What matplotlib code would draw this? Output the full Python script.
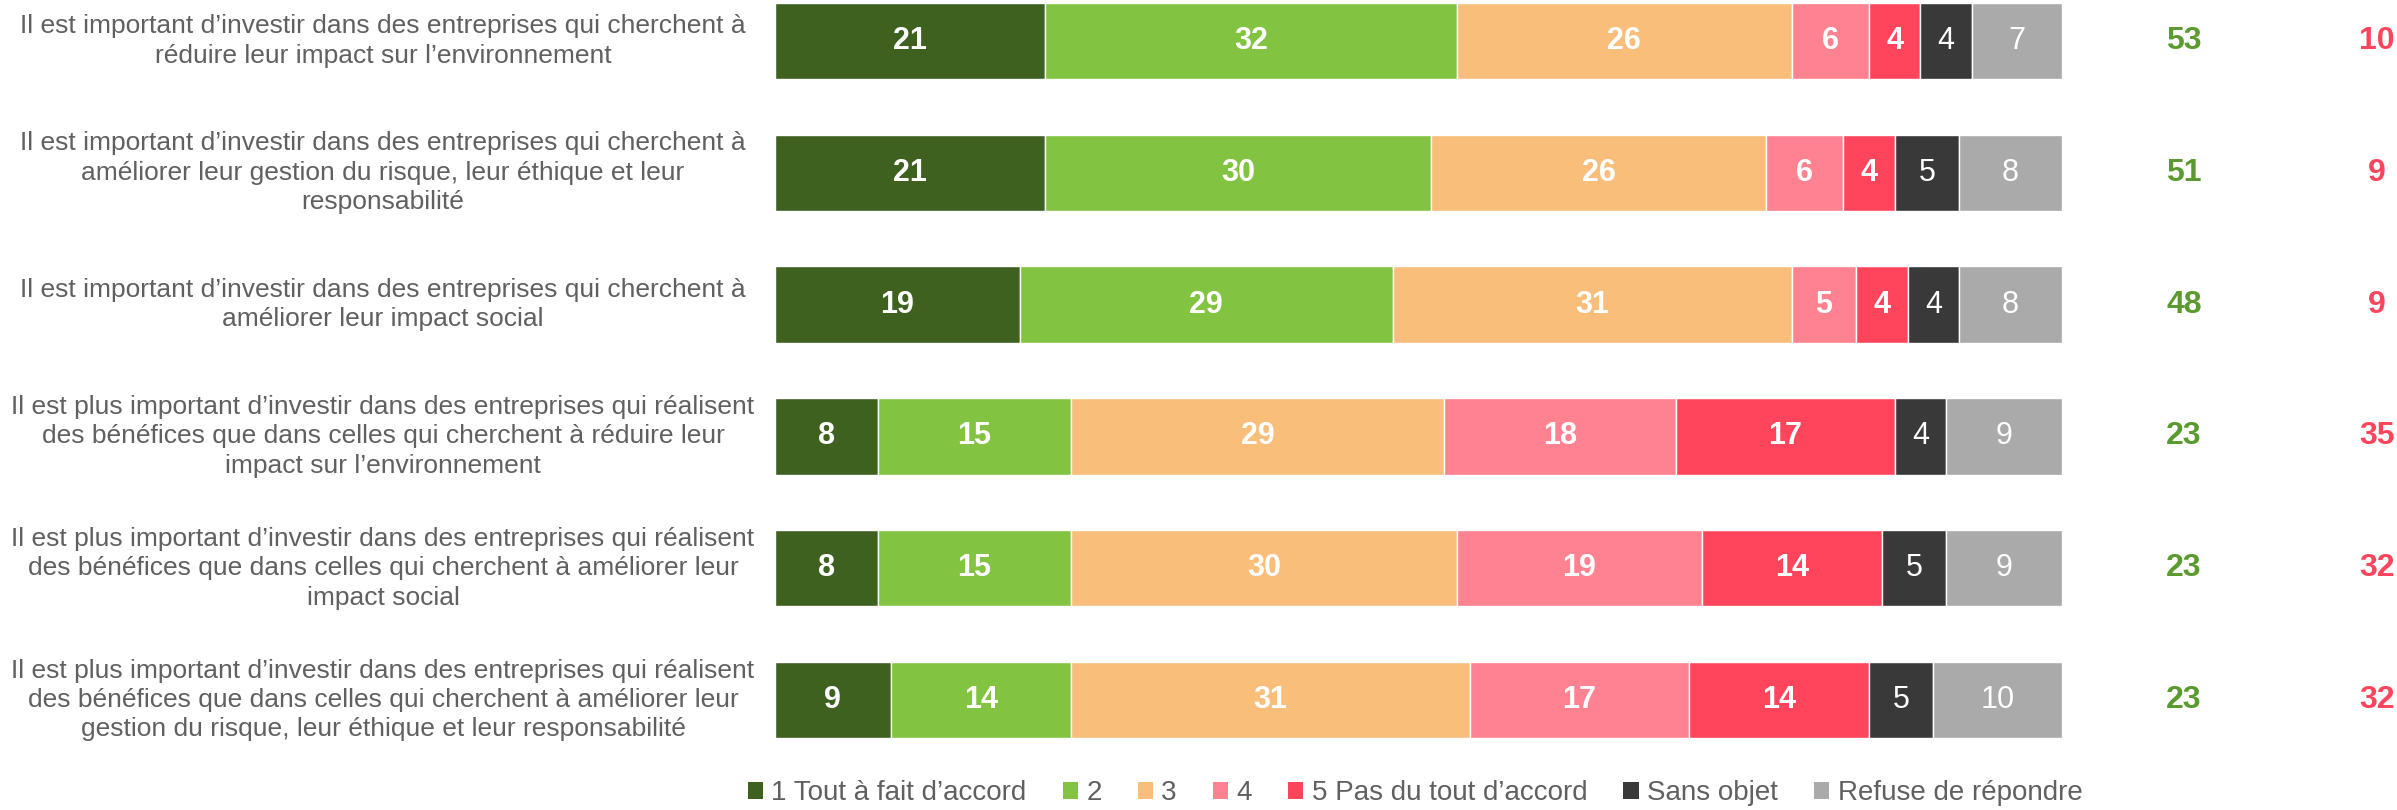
import matplotlib.pyplot as plt
from matplotlib.patches import Patch
import numpy as np

plt.rcParams['font.family'] = ['Liberation Sans', 'DejaVu Sans']

statements = [
    "Il est important d\u2019investir dans des entreprises qui cherchent \u00e0\nr\u00e9duire leur impact sur l\u2019environnement",
    "Il est important d\u2019investir dans des entreprises qui cherchent \u00e0\nam\u00e9liorer leur gestion du risque, leur \u00e9thique et leur\nresponsabilit\u00e9",
    "Il est important d\u2019investir dans des entreprises qui cherchent \u00e0\nam\u00e9liorer leur impact social",
    "Il est plus important d\u2019investir dans des entreprises qui r\u00e9alisent\ndes b\u00e9n\u00e9fices que dans celles qui cherchent \u00e0 r\u00e9duire leur\nimpact sur l\u2019environnement",
    "Il est plus important d\u2019investir dans des entreprises qui r\u00e9alisent\ndes b\u00e9n\u00e9fices que dans celles qui cherchent \u00e0 am\u00e9liorer leur\nimpact social",
    "Il est plus important d\u2019investir dans des entreprises qui r\u00e9alisent\ndes b\u00e9n\u00e9fices que dans celles qui cherchent \u00e0 am\u00e9liorer leur\ngestion du risque, leur \u00e9thique et leur responsabilit\u00e9",
]
categories = ["1 Tout \u00e0 fait d\u2019accord", "2", "3", "4", "5 Pas du tout d\u2019accord",
              "Sans objet", "Refuse de r\u00e9pondre"]
colors = ["#3F6120", "#82C341", "#F9BE7A", "#FF8290", "#FF455C", "#393939", "#AAAAAA"]

accord_1 = [21, 21, 19, 8, 8, 9]
accord_2 = [32, 30, 29, 15, 15, 14]
neutre_3 = [26, 26, 31, 29, 30, 31]
desaccord_4 = [6, 6, 5, 18, 19, 17]
desaccord_5 = [4, 4, 4, 17, 14, 14]
sans_objet = [4, 5, 4, 4, 5, 5]
refuse = [7, 8, 8, 9, 9, 10]
total_accord = [53, 51, 48, 23, 23, 23]
total_desaccord = [10, 9, 9, 35, 32, 32]

series = [accord_1, accord_2, neutre_3, desaccord_4, desaccord_5, sans_objet, refuse]

W, H = 2397, 810
fig = plt.figure(figsize=(W / 100, H / 100), dpi=100)
ax = fig.add_axes([775 / W, 1 - 760 / H, (2062 - 775) / W, 760 / H])

y = np.arange(len(statements))
left = np.zeros(len(statements))
for k, vals in enumerate(series):
    vals = np.array(vals, dtype=float)
    ax.barh(y, vals, left=left, height=0.58, color=colors[k], edgecolor='white', linewidth=1)
    for i, v in enumerate(vals):
        ax.text(left[i] + v / 2, y[i], f"{v:.0f}", ha='center', va='center', color='white',
                fontsize=22, fontweight='bold' if k < 5 else 'normal')
    left += vals

ax.set_xlim(0, 100)
ax.set_ylim(5.455, -0.311)
ax.axis('off')

for i, s in enumerate(statements):
    yc = 1 - (41 + i * 131.8) / H
    fig.text(383 / W, yc, s, ha='center', va='center', multialignment='center',
             fontsize=19, color='#606060', linespacing=1.28)
    fig.text(2184 / W, yc, str(total_accord[i]), ha='center', va='center',
             fontsize=23, fontweight='bold', color='#5A9A2E')
    fig.text(2377 / W, yc, str(total_desaccord[i]), ha='center', va='center',
             fontsize=23, fontweight='bold', color='#FF455C')

handles = [Patch(facecolor=c, edgecolor='none') for c in colors]
fig.legend(handles, categories, loc='center', bbox_to_anchor=(1415 / W, 1 - 793 / H),
           ncol=7, frameon=False, fontsize=20, labelcolor='#606060',
           handlelength=0.55, handleheight=0.55, handletextpad=0.3, columnspacing=1.3)

fig.savefig('out.png', dpi=100, facecolor='white')
